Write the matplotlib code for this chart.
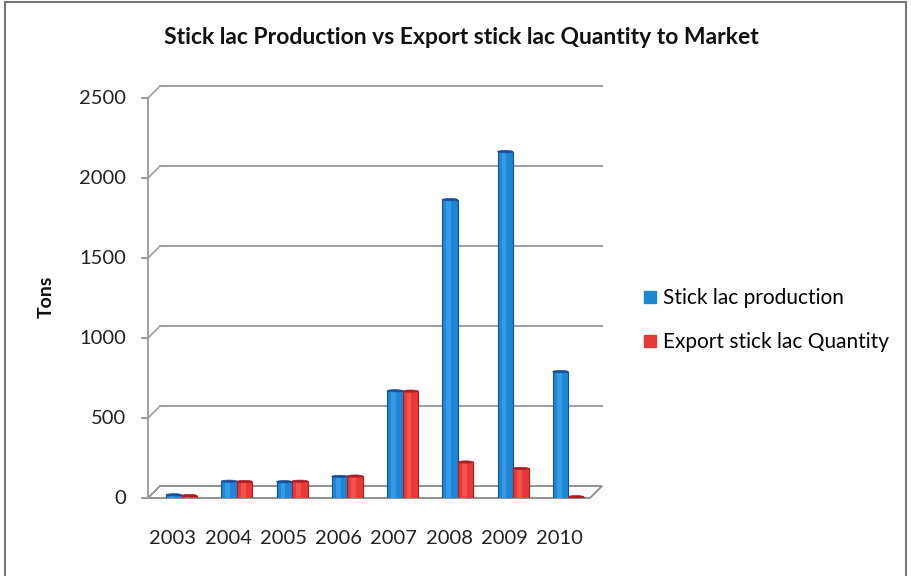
import matplotlib
matplotlib.use("Agg")

import numpy as np
import matplotlib.pyplot as plt
from matplotlib.patches import Polygon, Ellipse
from matplotlib.lines import Line2D

plt.rcParams['font.family'] = ['Lato', 'DejaVu Sans']

# --- data ---
years = ['2003', '2004', '2005', '2006', '2007', '2008', '2009', '2010']
production = [20, 105, 102, 135, 670, 1865, 2165, 790]
export_qty = [15, 103, 105, 137, 668, 225, 185, 8]
yticks = [0, 500, 1000, 1500, 2000, 2500]

blue = '#1f86d6'
blue_dark = '#1b4f9a'
blue_light = '#4aaef0'
red = '#e8393a'
red_dark = '#a82024'
red_light = '#ff6a5e'

fig = plt.figure(figsize=(9.12, 5.76), dpi=100)
ax = fig.add_axes([148/912, 78/576, 442/912, 400/576])
ax.set_xlim(-0.5, len(years) - 0.5)
ax.set_ylim(0, 2500)
ax.axis('off')

# depth offset of the back wall (about 12 px in x and y)
dx = 12 / 55.25
dy = 12 / 0.16
x0, x1 = -0.5, len(years) - 0.5

# floor
floor = Polygon([(x0, 0), (x1, 0), (x1 + dx, dy), (x0 + dx, dy)], closed=True,
                fc='white', ec='#8a8a8a', lw=1.3, clip_on=False, zorder=1)
ax.add_patch(floor)

# back wall gridlines + slanted connectors
for v in yticks:
    if v > 0:
        ax.plot([x0 + dx, x1 + dx], [v + dy, v + dy], color='#9f9f9f', lw=1.4,
                clip_on=False, zorder=1)
    ax.plot([x0, x0 + dx], [v, v + dy], color='#9f9f9f', lw=1.2, clip_on=False, zorder=1)
    ax.plot([x0 - 0.1, x0], [v, v], color='#8a8a8a', lw=1.2, clip_on=False, zorder=1)
    ax.text(x0 - 0.4, v, str(v), ha='right', va='center', fontsize=14.5,
            color='#222222')

# left axis line
ax.plot([x0, x0], [0, 2500], color='#9f9f9f', lw=1.4, clip_on=False, zorder=1)

# bars (with a simple cylinder look)
x = np.arange(len(years))
w = 0.28
off = 0.107
xb = x + off - w / 2
xr = x + off + w / 2
ax.bar(xb, production, width=w, color=blue, edgecolor=blue_dark, lw=0.8, zorder=3)
ax.bar(xb - w * 0.08, production, width=w * 0.3, color=blue_light, lw=0, alpha=0.55, zorder=3.1)
ax.bar(xr, export_qty, width=w, color=red, edgecolor=red_dark, lw=0.8, zorder=4)
ax.bar(xr - w * 0.08, export_qty, width=w * 0.3, color=red_light, lw=0, alpha=0.55, zorder=4.1)
for xi, v in zip(xb, production):
    ax.add_patch(Ellipse((xi, v), w, 14, fc=blue_dark, ec=blue_dark, lw=0.5, zorder=3.2,
                         clip_on=False))
for xi, v in zip(xr, export_qty):
    ax.add_patch(Ellipse((xi, v), w, 14, fc=red_dark, ec=red_dark, lw=0.5, zorder=4.2,
                         clip_on=False))

# category labels
for xi, lab in zip(x, years):
    ax.text(xi - 0.05, -250, lab, ha='center', va='center', fontsize=14.5, color='#222222')

# title and axis label
fig.text(461/912, 1 - 37/576, 'Stick lac Production vs Export stick lac Quantity to Market',
         ha='center', va='center', fontsize=16.5, fontweight='bold', color='#111111')
fig.text(46/912, 1 - 297/576, 'Tons', rotation=90, ha='center', va='center',
         fontsize=14, fontweight='bold', color='#111111')

# legend
handles = [Line2D([0], [0], marker='s', ls='', markersize=9, markerfacecolor=blue,
                  markeredgecolor=blue),
           Line2D([0], [0], marker='s', ls='', markersize=9, markerfacecolor=red,
                  markeredgecolor=red)]
fig.legend(handles, ['Stick lac production', 'Export stick lac Quantity'],
           loc='center left', bbox_to_anchor=(621/912, 1 - 320/576), frameon=False,
           fontsize=15, handletextpad=0.1, labelspacing=1.15, handlelength=1.0)

# outer border (top, left, right)
fig.add_artist(Line2D([5/912, 5/912], [0, 1 - 2/576], color='#777777', lw=1.5))
fig.add_artist(Line2D([5/912, 906/912], [1 - 2/576, 1 - 2/576], color='#777777', lw=1.5))
fig.add_artist(Line2D([906/912, 906/912], [0, 1 - 2/576], color='#777777', lw=1.5))

fig.savefig('out.png', dpi=100)
